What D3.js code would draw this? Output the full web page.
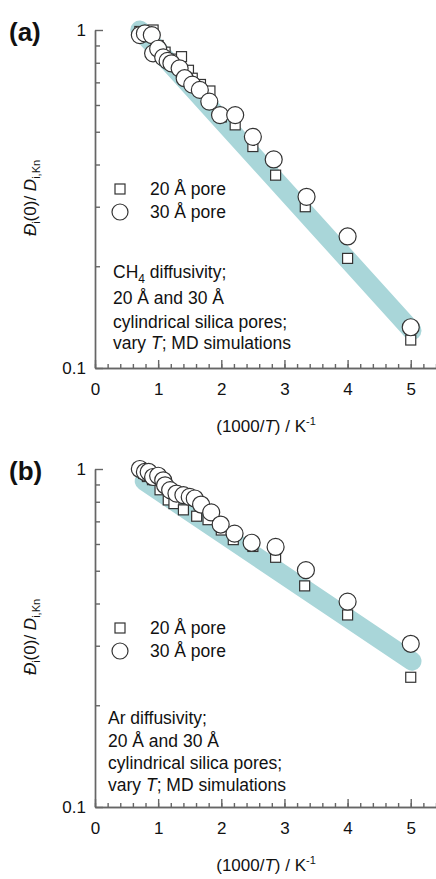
<!DOCTYPE html>
<html>
<head>
<meta charset="UTF-8">
<title>diffusivity vs 1000/T</title>
<style>
  body { margin: 0; background: #fff; }
  text { font-family: "Liberation Sans", Arial, sans-serif; fill: #111; }
</style>
</head>
<body>
<div id="chart"></div>
<script src="https://cdn.jsdelivr.net/npm/d3@7"></script>
<script>
// x ticks (1000/T) and y ticks (log scale)
const xMajor = [0, 1, 2, 3, 4, 5];
const yLabels = [0.1, 1];
const yMinor = [0.2, 0.3, 0.4, 0.5, 0.6, 0.7, 0.8, 0.9];

// (a) CH4 — [1000/T, value]
const ch4Pore20 = [[0.71,0.99],[0.77,0.98],[0.83,0.96],[0.92,1.0],[1.0,0.9],[1.11,0.86],[1.25,0.82],[1.37,0.834],[1.48,0.76],[1.54,0.72],[1.67,0.69],[1.82,0.66],[2.0,0.553],[2.22,0.524],[2.5,0.452],[2.86,0.372],[3.33,0.30],[4,0.211],[5,0.121]];
const ch4Pore30 = [[0.71,0.966],[0.79,0.977],[0.9,0.966],[0.92,0.853],[1.0,0.88],[1.08,0.83],[1.15,0.81],[1.21,0.797],[1.34,0.77],[1.42,0.72],[1.54,0.689],[1.66,0.665],[1.81,0.614],[1.98,0.56],[2.22,0.56],[2.5,0.483],[2.83,0.414],[3.35,0.321],[4,0.245],[5,0.132]];
const ch4Band = [[0.71,1.0],[5.02,0.129]];

// (b) Ar
const arPore20 = [[0.71,0.99],[0.77,0.97],[0.83,0.95],[0.91,0.93],[1.03,0.868],[1.16,0.81],[1.25,0.79],[1.40,0.757],[1.61,0.725],[1.79,0.708],[2.0,0.66],[2.19,0.618],[2.5,0.59],[2.86,0.548],[3.32,0.451],[4,0.37],[5,0.242]];
const arPore30 = [[0.71,1.0],[0.79,0.98],[0.85,0.98],[0.92,0.947],[1.0,0.955],[1.08,0.926],[1.11,0.895],[1.19,0.866],[1.29,0.846],[1.4,0.837],[1.5,0.827],[1.58,0.818],[1.68,0.785],[1.84,0.744],[1.99,0.685],[2.21,0.644],[2.48,0.605],[2.86,0.588],[3.34,0.502],[4,0.405],[5,0.304]];
const arBand = [[0.78,0.92],[5.02,0.27]];

const svg = d3.select("#chart").append("svg")
    .attr("width", 436)
    .attr("height", 879);

function drawPanel(top, tag, band, sq, circ, note) {
    const x = d3.scaleLinear().domain([0, 5.4]).range([95, 436]);
    const y = d3.scaleLog().domain([0.1, 1]).range([top + 338, top]);
    const g = svg.append("g");

    // fitted band
    const line = d3.line().x(d => x(d[0])).y(d => y(d[1]));
    g.append("path").attr("d", line(band))
        .attr("fill", "none").attr("stroke", "#a9d6d9")
        .attr("stroke-width", 19).attr("stroke-linecap", "round");

    // x axis: minor + major
    const xAxisG = g.append("g").attr("transform", `translate(0,${y(0.1)})`);
    xAxisG.call(d3.axisBottom(x).tickValues(d3.range(0, 5.41, 0.2)).tickSizeInner(-4).tickSizeOuter(0).tickFormat(""));
    xAxisG.append("g").call(d3.axisBottom(x).tickValues(xMajor).tickSizeInner(-8).tickSizeOuter(0).tickPadding(15).tickFormat(d3.format("d")));
    // y axis
    const yAxisG = g.append("g").attr("transform", `translate(${x(0)},0)`);
    yAxisG.call(d3.axisLeft(y).tickValues(yMinor).tickSizeInner(-5).tickSizeOuter(0).tickFormat(""));
    yAxisG.append("g").call(d3.axisLeft(y).tickValues(yLabels).tickSizeInner(-8).tickSizeOuter(0).tickPadding(9).tickFormat(d => d === 1 ? "1" : "0.1"));
    g.selectAll(".domain, .tick line").attr("stroke", "#666").attr("stroke-width", 1.4);
    g.selectAll(".tick text").attr("font-size", 17).attr("font-family", "Liberation Sans, Arial, sans-serif").attr("fill", "#111");

    // markers: squares under circles
    g.selectAll(".sq").data(sq).enter().append("rect").attr("class", "sq")
        .attr("x", d => x(d[0]) - 5).attr("y", d => y(d[1]) - 5)
        .attr("width", 10).attr("height", 10)
        .attr("fill", "#fff").attr("stroke", "#333").attr("stroke-width", 1.2);
    g.selectAll(".ci").data(circ).enter().append("circle").attr("class", "ci")
        .attr("cx", d => x(d[0])).attr("cy", d => y(d[1])).attr("r", 8.5)
        .attr("fill", "#fff").attr("stroke", "#333").attr("stroke-width", 1.2);

    // panel tag
    g.append("text").attr("x", 9).attr("y", top + 11)
        .attr("font-size", 26).attr("font-weight", "bold").text(tag);

    // legend
    const ly = top + 159;
    g.append("rect").attr("x", 115).attr("y", ly - 5).attr("width", 10).attr("height", 10)
        .attr("fill", "#fff").attr("stroke", "#333").attr("stroke-width", 1.2);
    g.append("circle").attr("cx", 120).attr("cy", ly + 23).attr("r", 8)
        .attr("fill", "#fff").attr("stroke", "#333").attr("stroke-width", 1.2);
    g.append("text").attr("x", 150).attr("y", ly + 6).attr("font-size", 17.5).text("20 Å pore");
    g.append("text").attr("x", 150).attr("y", ly + 29).attr("font-size", 17.5).text("30 Å pore");

    // annotation
    const nt = g.append("text").attr("font-size", 17.5);
    note.forEach(ln => {
        const t = nt.append("tspan").attr("x", ln.x).attr("y", top + ln.dy);
        ln.parts.forEach(p => {
            const s = t.append("tspan").text(p.t);
            if (p.i) s.attr("font-style", "italic");
            if (p.sub) s.attr("font-size", 12).attr("dy", 5);
            if (p.up) s.attr("dy", -5);
        });
    });

    // axis titles
    const xt = g.append("text").attr("x", 266).attr("y", y(0.1) + 64)
        .attr("text-anchor", "middle").attr("font-size", 17);
    xt.append("tspan").text("(1000/");
    xt.append("tspan").attr("font-style", "italic").text("T");
    xt.append("tspan").text(") / K");
    xt.append("tspan").attr("font-size", 11).attr("dy", -7).text("-1");

    const yt = g.append("text")
        .attr("transform", `translate(36,${top + 168}) rotate(-90)`)
        .attr("text-anchor", "middle").attr("font-size", 17);
    yt.append("tspan").attr("font-style", "italic").text("Đ");
    yt.append("tspan").attr("font-size", 11).attr("dy", 4).text("i");
    yt.append("tspan").attr("dy", -4).text("(0)/ ");
    yt.append("tspan").attr("font-style", "italic").text("D");
    yt.append("tspan").attr("font-size", 11).attr("dy", 4).text("i,Kn");
}

drawPanel(30, "(a)", ch4Band, ch4Pore20, ch4Pore30, [
    { x: 113, dy: 248, parts: [{ t: "CH" }, { t: "4", sub: true }, { t: " diffusivity;", up: true }] },
    { x: 113, dy: 274, parts: [{ t: "20 Å and 30 Å" }] },
    { x: 113, dy: 298, parts: [{ t: "cylindrical silica pores;" }] },
    { x: 113, dy: 319, parts: [{ t: "vary " }, { t: "T", i: true }, { t: "; MD simulations" }] }
]);

drawPanel(469, "(b)", arBand, arPore20, arPore30, [
    { x: 108, dy: 255, parts: [{ t: "Ar diffusivity;" }] },
    { x: 108, dy: 278, parts: [{ t: "20 Å and 30 Å" }] },
    { x: 108, dy: 300, parts: [{ t: "cylindrical silica pores;" }] },
    { x: 108, dy: 322, parts: [{ t: "vary " }, { t: "T", i: true }, { t: "; MD simulations" }] }
]);
</script>
</body>
</html>
